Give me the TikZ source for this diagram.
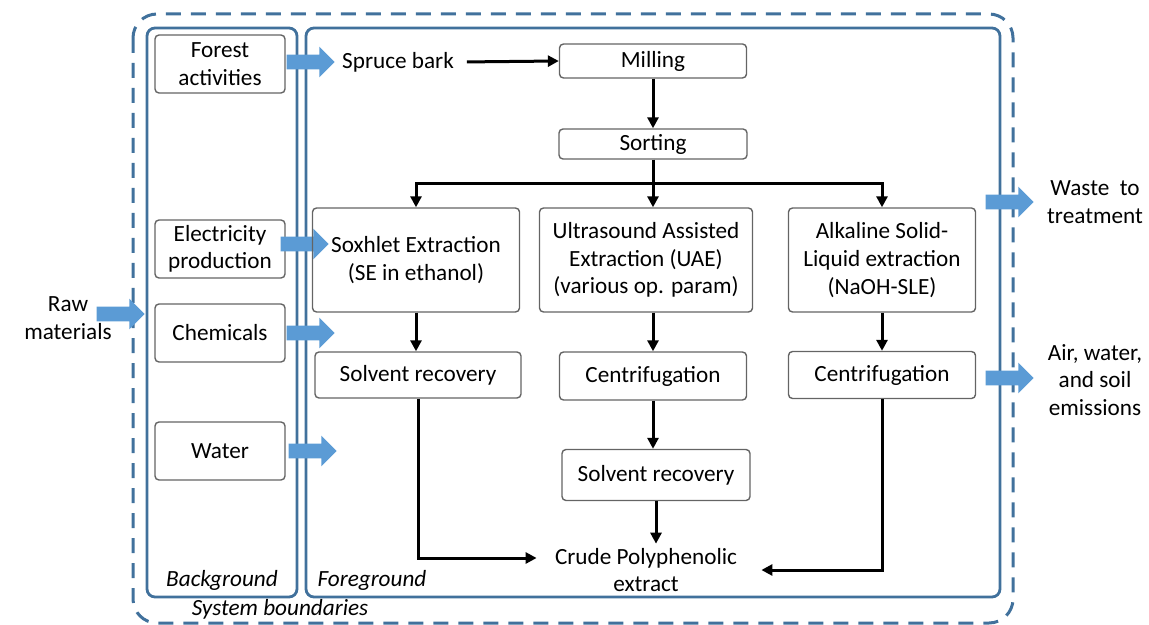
\documentclass[tikz,border=0pt]{standalone}
\usepackage{fontspec}
\setmainfont{Carlito}
\usetikzlibrary{arrows.meta}
\usetikzlibrary{shapes.arrows,positioning}
\definecolor{lineBlue}{RGB}{65,113,156}
\definecolor{arrowBlue}{RGB}{91,155,213}
\definecolor{boxGray}{RGB}{100,100,100}
\tikzset{>={Triangle[length=5.5pt,width=5.5pt]}}
\tikzset{
  stepbox/.style={draw=boxGray, line width=0.7pt, rounded corners=2pt, align=center, inner sep=0pt},
  flow/.style={->, line width=1.5pt},
  fatarrow/.style={single arrow, fill=arrowBlue, draw=none, inner sep=3.5pt, minimum height=24pt,
    single arrow head extend=4pt},
  boundary/.style={draw=lineBlue, line width=1.4pt, rounded corners=4pt},
  plain/.style={align=center}
}
\begin{document}
\begin{tikzpicture}[x=0.5pt,y=-0.5pt,font=\fontsize{11.6}{13.8}\selectfont]
				\useasboundingbox (0,0) rectangle (1149,625);
				% system boundaries
				\draw[draw=lineBlue, line width=1.5pt, rounded corners=12pt, dash pattern=on 7.5pt off 5pt] (133,14) rectangle (1013,623);
				\draw[boundary] (147,28) rectangle (297,597);
				\draw[boundary] (306,28) rectangle (1000,597);
				\node[font=\fontsize{11.6}{13.8}\selectfont\itshape] (bgLabel) at (222,580) {Background};
				\node[font=\fontsize{11.6}{13.8}\selectfont\itshape] (fgLabel) at (372,580) {Foreground};
				\node[font=\fontsize{11.6}{13.8}\selectfont\itshape] (sysLabel) at (280,609) {System boundaries};
				
				% background inputs
				\node[stepbox, minimum width=65pt, minimum height=29pt] (forest) at (220,64) {Forest\\activities};
				\node[stepbox, minimum width=65pt, minimum height=29pt] (elec) at (220,249) {Electricity\\production};
				\node[stepbox, minimum width=65pt, minimum height=29pt] (chem) at (220,333) {Chemicals};
				\node[stepbox, minimum width=65pt, minimum height=29pt] (water) at (220,451) {Water};
				\node[plain] (raw) at (68,318) {Raw\\materials};
				\node[plain] (waste) at (1095,202) {Waste~ to\\treatment};
				\node[plain] (emis) at (1095,380) {Air, water,\\and soil\\emissions};
				
				\node[fatarrow] (forestArr) at (307,62) {};
				\node[fatarrow] (elecArr) at (301,244) {};
				\node[fatarrow] (chemArr) at (307,333) {};
				\node[fatarrow] (waterArr) at (309,451) {};
				\node[fatarrow] (rawArr) at (117,314) {};
				\node[fatarrow] (wasteArr) at (1006,202) {};
				\node[fatarrow] (emisArr) at (1006,378) {};
				
				% foreground process
				\node[plain] (spruce) at (398,62) {Spruce bark};
				\node[stepbox, minimum width=93.5pt, minimum height=17pt] (milling) at (653,61) {Milling};
				\node[stepbox, minimum width=94pt, minimum height=15pt] (sorting) at (653,144) {Sorting};
				\node[stepbox, minimum width=103.5pt, minimum height=52pt] (soxhlet) at (416,260) {Soxhlet Extraction\\(SE in ethanol)};
				\node[stepbox, minimum width=106.5pt, minimum height=52pt] (uae) at (646,260) {Ultrasound Assisted\\Extraction (UAE)\\(various op. param)};
				\node[stepbox, minimum width=93.5pt, minimum height=52pt] (alkaline) at (882,260) {Alkaline Solid-\\Liquid extraction\\(NaOH-SLE)};
				\node[stepbox, minimum width=103pt, minimum height=23pt] (solvA) at (418,375) {Solvent recovery};
				\node[stepbox, minimum width=93.5pt, minimum height=24pt] (centrA) at (653,376) {Centrifugation};
				\node[stepbox, minimum width=93.5pt, minimum height=23.5pt] (centrB) at (882,375) {Centrifugation};
				\node[stepbox, minimum width=94pt, minimum height=25.5pt] (solvB) at (656,475) {Solvent recovery};
				\node[plain, inner sep=2pt] (crude) at (646,570) {Crude Polyphenolic\\extract};
				
				\draw[flow, shorten <=3pt] (spruce.east) -- (milling.west);
				\draw[flow] (milling.south) -- (sorting.north);
				\path (sorting.south) ++(0,24) coordinate (split);
				\draw[flow] (sorting.south) -- (sorting.south |- uae.north);
				\draw[flow] (split) -| (soxhlet.north);
				\draw[flow] (split) -| (alkaline.north);
				\draw[flow] (soxhlet.south) -- (soxhlet.south |- solvA.north);
				\draw[flow] (centrA.north |- uae.south) -- (centrA.north);
				\draw[flow] (alkaline.south) -- (centrB.north);
				\draw[flow] (centrA.south) -- (centrA.south |- solvB.north);
				\draw[flow] (solvB.south) -- (solvB.south |- crude.north);
				\draw[flow] (solvA.south) |- ([xshift=-7pt,yshift=6pt]crude.west);
				\draw[flow] (centrB.south) |- ([xshift=10pt]crude.east);
\end{tikzpicture}
\end{document}
